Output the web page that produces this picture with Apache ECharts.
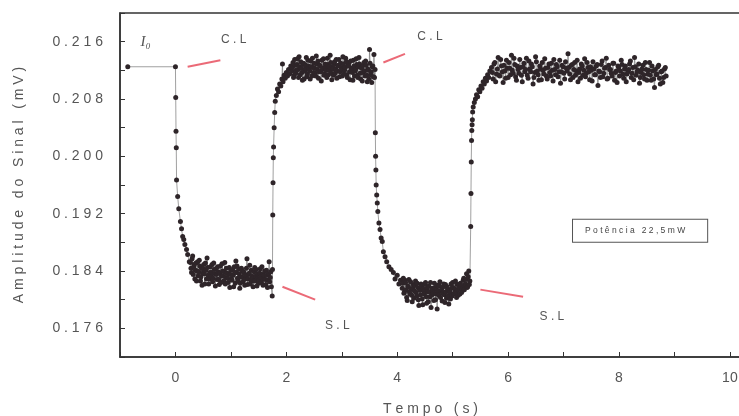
<!DOCTYPE html>
<html>
<head>
<meta charset="utf-8">
<script src="https://cdn.jsdelivr.net/npm/echarts@6/dist/echarts.min.js"></script>
<style>html,body{margin:0;padding:0;background:#fff;}#c{width:739px;height:416px;}</style>
</head>
<body>
<div id="c"></div>
<script>
// Tempo (s), Amplitude do Sinal (mV)
const inicial = [[-0.86,0.2125],[0.0,0.2125]];
const queda1 = [[0.005,0.2082],[0.01,0.2035],[0.015,0.2012],[0.02,0.1967],[0.04,0.1944],[0.06,0.1927],[0.09,0.1909],[0.11,0.1899],[0.13,0.1888],[0.15,0.1884],[0.17,0.1877],[0.20,0.1870],[0.22,0.1863],[0.25,0.1853]];
const platoBaixo1 = [[0.27,0.1852],[0.29,0.1838],[0.31,0.1861],[0.33,0.1846],[0.35,0.1829],[0.37,0.1851],[0.39,0.1840],[0.41,0.1833],[0.43,0.1855],[0.45,0.1826],[0.47,0.1844],[0.49,0.1837],[0.51,0.1849],[0.53,0.1822],[0.55,0.1841],[0.57,0.1858],[0.59,0.1834],[0.61,0.1829],[0.63,0.1846],[0.65,0.1838],[0.67,0.1825],[0.69,0.1851],[0.71,0.1836],[0.73,0.1843],[0.75,0.1828],[0.77,0.1839],[0.79,0.1821],[0.81,0.1847],[0.83,0.1833],[0.85,0.1840],[0.87,0.1826],[0.89,0.1852],[0.91,0.1831],[0.93,0.1837],[0.95,0.1824],[0.97,0.1845],[0.99,0.1835],[1.01,0.1829],[1.03,0.1842],[1.05,0.1818],[1.07,0.1838],[1.09,0.1854],[1.11,0.1847],[1.13,0.1826],[1.15,0.1836],[1.17,0.1823],[1.19,0.1844],[1.21,0.1831],[1.23,0.1839],[1.25,0.1820],[1.27,0.1834],[1.29,0.1857],[1.31,0.1829],[1.33,0.1837],[1.35,0.1822],[1.37,0.1841],[1.39,0.1830],[1.41,0.1826],[1.43,0.1845],[1.45,0.1833],[1.47,0.1819],[1.49,0.1836],[1.51,0.1828],[1.53,0.1843],[1.55,0.1824],[1.57,0.1835],[1.59,0.1829],[1.61,0.1840],[1.63,0.1821],[1.65,0.1834],[1.67,0.1827],[1.69,0.1853],[1.71,0.1831],[1.73,0.1818],[1.745,0.1805],[1.75,0.1842]];
const platoBaixo1b = [[0.28,0.1844],[0.30,0.1857],[0.32,0.1835],[0.34,0.1849],[0.36,0.1841],[0.38,0.1826],[0.40,0.1853],[0.42,0.1839],[0.44,0.1847],[0.46,0.1832],[0.48,0.1820],[0.50,0.1843],[0.52,0.1836],[0.54,0.1851],[0.56,0.1829],[0.58,0.1845],[0.60,0.1822],[0.62,0.1838],[0.64,0.1833],[0.66,0.1849],[0.68,0.1830],[0.70,0.1842],[0.72,0.1819],[0.74,0.1835],[0.76,0.1846],[0.78,0.1828],[0.80,0.1837],[0.82,0.1824],[0.84,0.1850],[0.86,0.1833],[0.88,0.1839],[0.90,0.1822],[0.92,0.1844],[0.94,0.1830],[0.96,0.1836],[0.98,0.1817],[1.00,0.1841],[1.02,0.1827],[1.04,0.1834],[1.06,0.1846],[1.08,0.1823],[1.10,0.1838],[1.12,0.1830],[1.14,0.1843],[1.16,0.1816],[1.18,0.1832],[1.20,0.1840],[1.22,0.1825],[1.24,0.1837],[1.26,0.1829],[1.28,0.1844],[1.30,0.1821],[1.32,0.1835],[1.34,0.1848],[1.36,0.1827],[1.38,0.1833],[1.40,0.1818],[1.42,0.1839],[1.44,0.1826],[1.46,0.1842],[1.48,0.1830],[1.50,0.1823],[1.52,0.1837],[1.54,0.1831],[1.56,0.1846],[1.58,0.1820],[1.60,0.1834],[1.62,0.1828],[1.64,0.1841],[1.66,0.1817],[1.68,0.1836],[1.70,0.1825],[1.72,0.1839]];
const subida1 = [[1.755,0.1918],[1.76,0.1963],[1.765,0.1998],[1.77,0.2013],[1.78,0.2040],[1.79,0.2061],[1.80,0.2077],[1.82,0.2085],[1.84,0.2094],[1.86,0.2090],[1.88,0.2101],[1.90,0.2098],[1.92,0.2108],[1.93,0.2129],[1.94,0.2104],[1.96,0.2113],[1.98,0.2109],[2.00,0.2117],[2.02,0.2112],[2.04,0.2121],[2.06,0.2115],[2.08,0.2126]];
const platoAlto1 = [[2.10,0.2119],[2.12,0.2131],[2.14,0.2113],[2.16,0.2127],[2.18,0.2120],[2.20,0.2136],[2.22,0.2110],[2.24,0.2125],[2.26,0.2132],[2.28,0.2117],[2.30,0.2128],[2.32,0.2108],[2.34,0.2122],[2.36,0.2138],[2.38,0.2115],[2.40,0.2126],[2.42,0.2119],[2.44,0.2133],[2.46,0.2112],[2.48,0.2124],[2.50,0.2130],[2.52,0.2116],[2.54,0.2140],[2.56,0.2121],[2.58,0.2109],[2.60,0.2127],[2.62,0.2118],[2.64,0.2134],[2.66,0.2123],[2.68,0.2113],[2.70,0.2129],[2.72,0.2120],[2.74,0.2137],[2.76,0.2114],[2.78,0.2125],[2.80,0.2131],[2.82,0.2107],[2.84,0.2122],[2.86,0.2128],[2.88,0.2116],[2.90,0.2135],[2.92,0.2119],[2.94,0.2126],[2.96,0.2111],[2.98,0.2130],[3.00,0.2121],[3.02,0.2139],[3.04,0.2115],[3.06,0.2124],[3.08,0.2132],[3.10,0.2110],[3.12,0.2127],[3.14,0.2118],[3.16,0.2133],[3.18,0.2122],[3.20,0.2106],[3.22,0.2126],[3.24,0.2119],[3.26,0.2136],[3.28,0.2113],[3.30,0.2125],[3.32,0.2129],[3.34,0.2108],[3.36,0.2123],[3.38,0.2117],[3.40,0.2131],[3.42,0.2112],[3.44,0.2127],[3.46,0.2104],[3.48,0.2120],[3.50,0.2149],[3.52,0.2114],[3.54,0.2103],[3.56,0.2126],[3.58,0.2142],[3.59,0.2110],[3.60,0.2121]];
const platoAlto1b = [[2.11,0.2124],[2.13,0.2110],[2.15,0.2135],[2.17,0.2116],[2.19,0.2128],[2.21,0.2121],[2.23,0.2139],[2.25,0.2114],[2.27,0.2123],[2.29,0.2106],[2.31,0.2130],[2.33,0.2119],[2.35,0.2127],[2.37,0.2111],[2.39,0.2134],[2.41,0.2122],[2.43,0.2108],[2.45,0.2125],[2.47,0.2137],[2.49,0.2117],[2.51,0.2123],[2.53,0.2112],[2.55,0.2129],[2.57,0.2133],[2.59,0.2118],[2.61,0.2126],[2.63,0.2105],[2.65,0.2121],[2.67,0.2136],[2.69,0.2115],[2.71,0.2124],[2.73,0.2110],[2.75,0.2128],[2.77,0.2120],[2.79,0.2141],[2.81,0.2116],[2.83,0.2125],[2.85,0.2113],[2.87,0.2132],[2.89,0.2122],[2.91,0.2109],[2.93,0.2127],[2.95,0.2135],[2.97,0.2118],[2.99,0.2124],[3.01,0.2112],[3.03,0.2129],[3.05,0.2120],[3.07,0.2137],[3.09,0.2114],[3.11,0.2126],[3.13,0.2131],[3.15,0.2107],[3.17,0.2123],[3.19,0.2117],[3.21,0.2134],[3.23,0.2112],[3.25,0.2121],[3.27,0.2128],[3.29,0.2110],[3.31,0.2138],[3.33,0.2116],[3.35,0.2124],[3.37,0.2105],[3.39,0.2127],[3.41,0.2119],[3.43,0.2133],[3.45,0.2113],[3.47,0.2122],[3.49,0.2108],[3.51,0.2130],[3.53,0.2118],[3.55,0.2125],[3.57,0.2111]];
const queda2 = [[3.605,0.2033],[3.61,0.2000],[3.615,0.1981],[3.62,0.1960],[3.63,0.1946],[3.64,0.1935],[3.65,0.1923],[3.67,0.1907],[3.69,0.1898],[3.71,0.1886],[3.73,0.1881],[3.75,0.1867],[3.78,0.1860],[3.81,0.1853],[3.85,0.1846],[3.89,0.1842],[3.93,0.1838],[3.96,0.1829],[4.00,0.1834],[4.03,0.1822],[4.06,0.1827]];
const platoBaixo2 = [[4.09,0.1816],[4.11,0.1830],[4.13,0.1811],[4.15,0.1824],[4.17,0.1803],[4.19,0.1819],[4.21,0.1828],[4.23,0.1808],[4.25,0.1815],[4.27,0.1797],[4.29,0.1821],[4.31,0.1812],[4.33,0.1826],[4.35,0.1805],[4.37,0.1817],[4.39,0.1792],[4.41,0.1813],[4.43,0.1822],[4.45,0.1801],[4.47,0.1815],[4.49,0.1808],[4.51,0.1824],[4.53,0.1795],[4.55,0.1811],[4.57,0.1819],[4.59,0.1804],[4.61,0.1789],[4.63,0.1816],[4.65,0.1809],[4.67,0.1823],[4.69,0.1800],[4.71,0.1814],[4.73,0.1820],[4.75,0.1806],[4.77,0.1825],[4.79,0.1812],[4.81,0.1798],[4.83,0.1818],[4.85,0.1807],[4.87,0.1821],[4.89,0.1802],[4.91,0.1815],[4.93,0.1794],[4.95,0.1810],[4.97,0.1822],[4.99,0.1805],[5.01,0.1817],[5.03,0.1809],[5.05,0.1826],[5.07,0.1803],[5.09,0.1814],[5.11,0.1821],[5.13,0.1808],[5.15,0.1819],[5.17,0.1812],[5.19,0.1827],[5.21,0.1814],[5.23,0.1822],[5.25,0.1836],[5.27,0.1818],[5.29,0.1840],[5.31,0.1826]];
const platoBaixo2b = [[4.10,0.1823],[4.12,0.1809],[4.14,0.1827],[4.16,0.1814],[4.18,0.1799],[4.20,0.1818],[4.22,0.1811],[4.24,0.1825],[4.26,0.1806],[4.28,0.1816],[4.30,0.1802],[4.32,0.1820],[4.34,0.1810],[4.36,0.1823],[4.38,0.1800],[4.40,0.1815],[4.42,0.1807],[4.44,0.1819],[4.46,0.1793],[4.48,0.1812],[4.50,0.1821],[4.52,0.1804],[4.54,0.1816],[4.56,0.1797],[4.58,0.1811],[4.60,0.1824],[4.62,0.1806],[4.64,0.1813],[4.66,0.1799],[4.68,0.1817],[4.70,0.1808],[4.72,0.1787],[4.74,0.1812],[4.76,0.1819],[4.78,0.1803],[4.80,0.1814],[4.82,0.1809],[4.84,0.1822],[4.86,0.1796],[4.88,0.1811],[4.90,0.1818],[4.92,0.1805],[4.94,0.1813],[4.96,0.1801],[4.98,0.1816],[5.00,0.1824],[5.02,0.1808],[5.04,0.1815],[5.06,0.1811],[5.08,0.1821],[5.10,0.1806],[5.12,0.1817],[5.14,0.1823],[5.16,0.1810],[5.18,0.1816],[5.20,0.1830],[5.22,0.1820],[5.24,0.1828],[5.26,0.1817],[5.28,0.1832],[5.30,0.1821]];
const subida2 = [[5.325,0.1902],[5.33,0.1948],[5.335,0.1992],[5.34,0.2022],[5.345,0.2036],[5.35,0.2044],[5.355,0.2051],[5.36,0.2062],[5.37,0.2069],[5.39,0.2075],[5.41,0.2080],[5.43,0.2086],[5.45,0.2083],[5.47,0.2093],[5.49,0.2090],[5.51,0.2098],[5.53,0.2095],[5.55,0.2104],[5.57,0.2101],[5.59,0.2109],[5.61,0.2105],[5.63,0.2114],[5.65,0.2110],[5.67,0.2119]];
const platoAlto2 = [[5.70,0.2124],[5.73,0.2108],[5.76,0.2131],[5.79,0.2115],[5.82,0.2138],[5.85,0.2112],[5.88,0.2126],[5.91,0.2103],[5.94,0.2119],[5.97,0.2134],[6.00,0.2110],[6.03,0.2123],[6.06,0.2141],[6.09,0.2116],[6.12,0.2128],[6.15,0.2106],[6.18,0.2121],[6.21,0.2135],[6.24,0.2113],[6.27,0.2125],[6.30,0.2118],[6.33,0.2137],[6.36,0.2109],[6.39,0.2122],[6.42,0.2129],[6.45,0.2101],[6.48,0.2117],[6.51,0.2132],[6.54,0.2114],[6.57,0.2126],[6.60,0.2107],[6.63,0.2120],[6.66,0.2136],[6.69,0.2112],[6.72,0.2124],[6.75,0.2117],[6.78,0.2130],[6.81,0.2105],[6.84,0.2121],[6.87,0.2128],[6.90,0.2111],[6.93,0.2134],[6.96,0.2118],[6.99,0.2125],[7.02,0.2108],[7.05,0.2123],[7.08,0.2143],[7.11,0.2115],[7.14,0.2127],[7.17,0.2110],[7.20,0.2131],[7.23,0.2119],[7.26,0.2104],[7.29,0.2122],[7.32,0.2129],[7.35,0.2113],[7.38,0.2136],[7.41,0.2116],[7.44,0.2124],[7.47,0.2107],[7.50,0.2120],[7.53,0.2132],[7.56,0.2114],[7.59,0.2126],[7.62,0.2099],[7.65,0.2118],[7.68,0.2128],[7.71,0.2111],[7.74,0.2123],[7.77,0.2137],[7.80,0.2109],[7.83,0.2121],[7.86,0.2116],[7.89,0.2130],[7.92,0.2106],[7.95,0.2119],[7.98,0.2126],[8.01,0.2112],[8.04,0.2134],[8.07,0.2115],[8.10,0.2122],[8.13,0.2104],[8.16,0.2118],[8.19,0.2129],[8.22,0.2110],[8.25,0.2124],[8.28,0.2138],[8.31,0.2113],[8.34,0.2120],[8.37,0.2102],[8.40,0.2117],[8.43,0.2127],[8.46,0.2108],[8.49,0.2121],[8.52,0.2115],[8.55,0.2131],[8.58,0.2106],[8.61,0.2119],[8.64,0.2096],[8.67,0.2114],[8.70,0.2125],[8.73,0.2109],[8.76,0.2118],[8.79,0.2103],[8.82,0.2122],[8.85,0.2112]];
const platoAlto2b = [[5.715,0.2117],[5.745,0.2129],[5.775,0.2104],[5.805,0.2122],[5.835,0.2113],[5.865,0.2135],[5.895,0.2118],[5.925,0.2127],[5.955,0.2109],[5.985,0.2123],[6.015,0.2131],[6.045,0.2114],[6.075,0.2120],[6.105,0.2137],[6.135,0.2111],[6.165,0.2126],[6.195,0.2116],[6.225,0.2124],[6.255,0.2104],[6.285,0.2130],[6.315,0.2121],[6.345,0.2113],[6.375,0.2133],[6.405,0.2118],[6.435,0.2125],[6.465,0.2110],[6.495,0.2139],[6.525,0.2119],[6.555,0.2106],[6.585,0.2122],[6.615,0.2131],[6.645,0.2115],[6.675,0.2123],[6.705,0.2108],[6.735,0.2129],[6.765,0.2112],[6.795,0.2120],[6.825,0.2135],[6.855,0.2114],[6.885,0.2125],[6.915,0.2118],[6.945,0.2102],[6.975,0.2127],[7.005,0.2116],[7.035,0.2132],[7.065,0.2119],[7.095,0.2124],[7.125,0.2107],[7.155,0.2128],[7.185,0.2121],[7.215,0.2113],[7.245,0.2134],[7.275,0.2117],[7.305,0.2109],[7.335,0.2126],[7.365,0.2120],[7.395,0.2111],[7.425,0.2131],[7.455,0.2118],[7.485,0.2125],[7.515,0.2105],[7.545,0.2122],[7.575,0.2114],[7.605,0.2128],[7.635,0.2119],[7.665,0.2110],[7.695,0.2133],[7.725,0.2116],[7.755,0.2124],[7.785,0.2108],[7.815,0.2127],[7.845,0.2121],[7.875,0.2112],[7.905,0.2130],[7.935,0.2117],[7.965,0.2103],[7.995,0.2124],[8.025,0.2119],[8.055,0.2128],[8.085,0.2109],[8.115,0.2126],[8.145,0.2115],[8.175,0.2121],[8.205,0.2133],[8.235,0.2116],[8.265,0.2107],[8.295,0.2125],[8.325,0.2118],[8.355,0.2129],[8.385,0.2110],[8.415,0.2122],[8.445,0.2114],[8.475,0.2131],[8.505,0.2106],[8.535,0.2120],[8.565,0.2113],[8.595,0.2126],[8.625,0.2108],[8.655,0.2121],[8.685,0.2115],[8.715,0.2127],[8.745,0.2101],[8.775,0.2119],[8.805,0.2110],[8.835,0.2124]];

// Annotation texts (data coordinates)
const rotulos = [
  {text:'I\u2080', at:[-0.54,0.2160], size:15, italic:true},
  {text:'C.L', at:[1.05,0.2163], size:12},
  {text:'C.L', at:[4.59,0.2167], size:12},
  {text:'S.L', at:[2.92,0.1764], size:12},
  {text:'S.L', at:[6.79,0.1776], size:12}
];
const setas = [
  [[0.22,0.2125],[0.81,0.2134]],
  [[3.75,0.2131],[4.14,0.2143]],
  [[1.93,0.1818],[2.52,0.1800]],
  [[5.50,0.1814],[6.27,0.1804]]
];
const legendaTexto = 'Potência 22,5mW';
const legendaPos = [8.38,0.1896];

const serie = [].concat(inicial, queda1, platoBaixo1, platoBaixo1b, subida1, platoAlto1, platoAlto1b, queda2, platoBaixo2, platoBaixo2b, subida2, platoAlto2, platoAlto2b)
  .sort((a,b)=>a[0]-b[0]);

function spaced(s, sep){ return String(s).split('').join(sep || '\u2009'); }

const chart = echarts.init(document.getElementById('c'), null, {renderer:'canvas'});
const gray = '#555';
chart.setOption({
  backgroundColor:'#fff',
  animation:false,
  grid:{left:120, right:-2, top:13, bottom:59, containLabel:false, outerBoundsMode:'none',
        show:true, borderColor:'#333', borderWidth:1.5, backgroundColor:'transparent'},
  xAxis:{
    type:'value', min:-1, max:10.2, interval:1,
    name: 'T e m p o   ( s )', nameLocation:'middle', nameGap:45,
    nameTextStyle:{color:gray, fontSize:14, fontFamily:'Liberation Sans'},
    axisLine:{onZero:false, lineStyle:{color:'#333', width:1.5}},
    axisTick:{inside:true, length:5, lineStyle:{color:'#333'}},
    axisLabel:{color:gray, fontSize:14, margin:14, fontFamily:'Liberation Sans',
      formatter:function(v){ return (Math.round(v)%2===0) ? String(Math.round(v)) : ''; }, showMaxLabel:false},
    splitLine:{show:false}
  },
  yAxis:{
    type:'value', min:0.172, max:0.220, interval:0.004,
    name:'A m p l i t u d e   d o   S i n a l   ( m V )', nameLocation:'middle', nameGap:94, nameRotate:90,
    nameTextStyle:{color:gray, fontSize:14, fontFamily:'Liberation Sans'},
    axisLine:{onZero:false, lineStyle:{color:'#333', width:1.5}},
    axisTick:{inside:true, length:5, lineStyle:{color:'#333'}},
    axisLabel:{color:gray, fontSize:14, margin:17, fontFamily:'Liberation Sans',
      formatter:function(v){ const k=Math.round(v*1000); return (k%8===0) ? spaced(v.toFixed(3), ' ') : ''; }},
    splitLine:{show:false}
  },
  series:[{
    type:'line',
    data: serie,
    symbol:'circle', symbolSize:5, showSymbol:true,
    itemStyle:{color:'#2e2529'},
    lineStyle:{color:'#777', width:0.7},
    markLine:{
      silent:true, symbol:['none','none'],
      lineStyle:{color:'#e8505f', width:2, type:'solid', opacity:0.85},
      label:{show:false},
      data: setas.map(s=>[{coord:s[0]},{coord:s[1]}])
    },
    markPoint:{
      silent:true, symbol:'circle', symbolSize:0,
      data: rotulos.map(r=>({coord:r.at, value:r.text,
        label:{show:true, position:'inside', formatter: r.italic ? r.text : spaced(r.text, ' '), color:gray, fontSize:r.size,
          fontFamily: r.italic ? 'Liberation Serif' : 'Liberation Sans', fontStyle: r.italic?'italic':'normal'}}))
      .concat([{coord:legendaPos, value:legendaTexto,
        label:{show:true, position:'inside', formatter:spaced(legendaTexto, ' '), color:'#444', fontSize:8.5,
          fontFamily:'Liberation Sans', borderColor:'#555', borderWidth:1, padding:[7,22,6,12], backgroundColor:'#fff'}}])
    }
  }]
});
</script>
</body>
</html>
